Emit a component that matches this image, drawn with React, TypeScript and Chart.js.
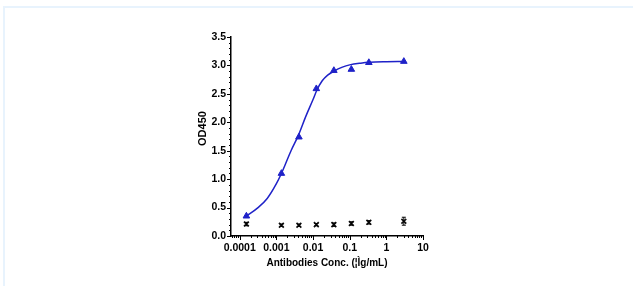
import React, { useEffect, useRef } from "react";
import { Chart, registerables } from "chart.js";

Chart.register(...registerables);

const concentrations = [0.000152, 0.00137, 0.00412, 0.0123, 0.037, 0.111, 0.333, 3];
const antibodyOD = [0.35, 1.10, 1.74, 2.59, 2.91, 2.93, 3.05, 3.07];
const controlOD = [0.21, 0.19, 0.19, 0.20, 0.20, 0.22, 0.24, 0.26];
const controlErr = [0.03, 0.02, 0.02, 0.02, 0.03, 0.03, 0.03, 0.07];

const fitX = [0.000152, 0.000316, 0.000562, 0.001, 0.00137, 0.00178, 0.00251, 0.00398, 0.00631, 0.01, 0.0126, 0.0178, 0.0251, 0.0372, 0.0631, 0.1, 0.2, 0.355, 1, 3];
const fitY = [0.35, 0.50, 0.66, 0.92, 1.10, 1.27, 1.50, 1.77, 2.10, 2.40, 2.56, 2.73, 2.83, 2.90, 2.97, 3.01, 3.04, 3.055, 3.065, 3.07];

const xTickValues = [0.0001, 0.001, 0.01, 0.1, 1, 10];
const xTickLabels = ["0.0001", "0.001", "0.01", "0.1", "1", "10"];
const yTickValues = [0, 0.5, 1, 1.5, 2, 2.5, 3, 3.5];
const yTickLabels = ["0.0", "0.5", "1.0", "1.5", "2.0", "2.5", "3.0", "3.5"];

const xTitle = "Antibodies Conc. (¦Ìg/mL)";
const yTitle = "OD450";

const FONT = "'Liberation Sans', Arial, sans-serif";
const BLUE = "#1f22c8";

const axisDecor = {
  id: "axisDecor",
  afterDraw(chart: any) {
    const ctx = chart.ctx;
    const xs = chart.scales.x;
    const ys = chart.scales.y;
    const axisX = ys.right;
    const axisY = xs.top;
    ctx.save();
    ctx.strokeStyle = "#000";
    ctx.lineWidth = 1;
    for (let i = 0; i <= 35; i++) {
      const v = i / 10;
      const py = Math.round(ys.getPixelForValue(v)) + 0.5;
      const len = i % 5 === 0 ? 4 : 2;
      ctx.beginPath();
      ctx.moveTo(axisX, py);
      ctx.lineTo(axisX - len, py);
      ctx.stroke();
    }
    for (let e = -5; e <= 1; e++) {
      for (let k = 1; k <= 9; k++) {
        const v = k * Math.pow(10, e);
        if (v < xs.min || v > xs.max * 1.0001) continue;
        const px = Math.round(xs.getPixelForValue(v)) + 0.5;
        const len = k === 1 ? 4 : 2;
        ctx.beginPath();
        ctx.moveTo(px, axisY);
        ctx.lineTo(px, axisY + len);
        ctx.stroke();
      }
    }
    const meta = chart.getDatasetMeta(2);
    ctx.lineWidth = 1;
    meta.data.forEach((pt: any, i: number) => {
      const top = ys.getPixelForValue(controlOD[i] + controlErr[i]);
      const bot = ys.getPixelForValue(controlOD[i] - controlErr[i]);
      ctx.beginPath();
      ctx.moveTo(pt.x, top);
      ctx.lineTo(pt.x, bot);
      ctx.moveTo(pt.x - 2, top);
      ctx.lineTo(pt.x + 2, top);
      ctx.moveTo(pt.x - 2, bot);
      ctx.lineTo(pt.x + 2, bot);
      ctx.stroke();
    });
    ctx.fillStyle = "#000";
    ctx.font = `bold 11px ${FONT}`;
    ctx.textAlign = "center";
    ctx.textBaseline = "middle";
    ctx.translate(axisX - 28, ys.top + (ys.bottom - ys.top) * 0.46);
    ctx.rotate(-Math.PI / 2);
    ctx.fillText(yTitle, 0, 0);
    ctx.restore();
  },
};

export default function App() {
  const ref = useRef<HTMLCanvasElement | null>(null);
  useEffect(() => {
    if (!ref.current) return;
    const chart = new Chart(ref.current, {
      type: "scatter",
      data: {
        datasets: [
          {
            label: "fit",
            data: fitX.map((x, i) => ({ x, y: fitY[i] })),
            showLine: true,
            borderColor: BLUE,
            borderWidth: 1.5,
            pointRadius: 0,
            cubicInterpolationMode: "monotone",
            fill: false,
          },
          {
            label: "Antibody",
            data: concentrations.map((x, i) => ({ x, y: antibodyOD[i] })),
            pointStyle: "triangle",
            pointRadius: 3.8,
            backgroundColor: BLUE,
            borderColor: BLUE,
            borderWidth: 1,
            showLine: false,
          },
          {
            label: "Control",
            data: concentrations.map((x, i) => ({ x, y: controlOD[i] })),
            pointStyle: "crossRot",
            pointRadius: 3.4,
            borderColor: "#111",
            borderWidth: 1.7,
            showLine: false,
          },
        ],
      },
      options: {
        animation: false,
        responsive: false,
        maintainAspectRatio: false,
        layout: { padding: { left: 0, right: 210, top: 37, bottom: 17 } },
        plugins: { legend: { display: false }, tooltip: { enabled: false } },
        scales: {
          x: {
            type: "logarithmic",
            min: 0.0000578,
            max: 10,
            afterBuildTicks: (scale: any) => {
              scale.ticks = xTickValues.map((v) => ({ value: v }));
            },
            afterFit: (scale: any) => {
              scale.height = 33;
            },
            ticks: {
              autoSkip: false,
              maxRotation: 0,
              padding: 2,
              color: "#000",
              font: { family: FONT, size: 10.5, weight: "bold" },
              callback: (v: any) => {
                const idx = xTickValues.findIndex((t) => Math.abs(Math.log10(t) - Math.log10(v)) < 1e-6);
                return idx >= 0 ? xTickLabels[idx] : "";
              },
            },
            grid: { display: false, drawTicks: true, tickLength: 4 },
            border: { display: true, color: "#000", width: 1.5 },
            title: {
              display: true,
              text: xTitle,
              color: "#000",
              font: { family: FONT, size: 10, weight: "bold" },
              padding: { top: 3, bottom: 0 },
            },
          },
          y: {
            type: "linear",
            min: 0,
            max: 3.5,
            afterBuildTicks: (scale: any) => {
              scale.ticks = yTickValues.map((v) => ({ value: v }));
            },
            afterFit: (scale: any) => {
              scale.width = 231;
            },
            ticks: {
              autoSkip: false,
              padding: 1,
              color: "#000",
              font: { family: FONT, size: 10.5, weight: "bold" },
              callback: (v: any) => {
                const idx = yTickValues.findIndex((t) => Math.abs(t - v) < 1e-9);
                return idx >= 0 ? yTickLabels[idx] : "";
              },
            },
            grid: { display: false, drawTicks: true, tickLength: 4 },
            border: { display: true, color: "#000", width: 1.5 },
          },
        },
      },
      plugins: [axisDecor],
    } as any);
    return () => chart.destroy();
  }, []);
  return (
    <div style={{ position: "fixed", left: 0, top: 0, width: 633, height: 286, background: "#fff", overflow: "hidden" }}>
      <div
        style={{
          position: "absolute",
          left: 3,
          top: 6,
          width: 700,
          height: 400,
          border: "2px solid #e8f3fd",
          boxSizing: "border-box",
        }}
      />
      <canvas ref={ref} width={633} height={286} style={{ position: "absolute", left: 0, top: 0, width: 633, height: 286 }} />
    </div>
  );
}
